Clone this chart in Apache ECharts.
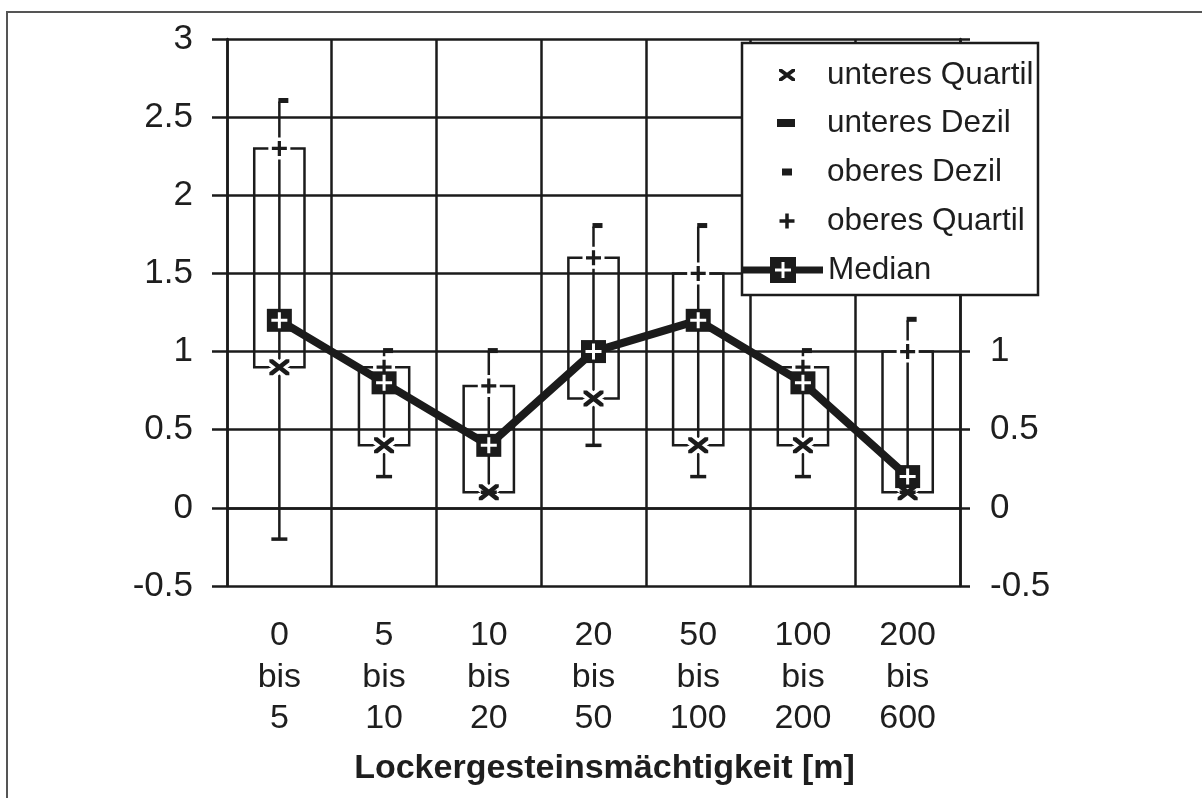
<!DOCTYPE html>
<html>
<head>
<meta charset="utf-8">
<script src="https://cdn.jsdelivr.net/npm/echarts@6/dist/echarts.min.js"></script>
<style>
  html, body { margin: 0; padding: 0; background: #ffffff; }
  #chart { width: 1202px; height: 798px; }
</style>
</head>
<body>
<div id="chart"></div>
<script>
// ---- data ----
const categories = ['0\nbis\n5', '5\nbis\n10', '10\nbis\n20', '20\nbis\n50', '50\nbis\n100', '100\nbis\n200', '200\nbis\n600'];
const lowerDecile   = [-0.2, 0.2, 0.1, 0.4, 0.2, 0.2, 0.1];
const lowerQuartile = [0.9, 0.4, 0.1, 0.7, 0.4, 0.4, 0.1];
const median        = [1.2, 0.8, 0.4, 1.0, 1.2, 0.8, 0.2];
const upperQuartile = [2.3, 0.9, 0.78, 1.6, 1.5, 0.9, 1.0];
const upperDecile   = [2.6, 1.0, 1.0, 1.8, 1.8, 1.0, 1.2];
const yTicks = { min: -0.5, max: 3, interval: 0.5 };
const seriesNames = ['unteres Quartil', 'unteres Dezil', 'oberes Dezil', 'oberes Quartil', 'Median'];
const axisTitle = 'Lockergesteinsmächtigkeit [m]';

// ---- symbols ----
const FONT = '"Liberation Sans", Arial, Helvetica, sans-serif';
const INK = '#1b1b1b';
const xPath = 'path://M0 0 L3.5 0 L20 13 L20 16 L16.5 16 L0 3 Z M16.5 0 L20 0 L20 3 L3.5 16 L0 16 L0 13 Z';
const plusPath = 'path://M5.5 0 H8.5 V5.5 H14 V8.5 H8.5 V14 H5.5 V8.5 H0 V5.5 H5.5 Z';
const crossPath = 'path://M6.5 0 H9.5 V6.5 H16 V9.5 H9.5 V16 H6.5 V9.5 H0 V6.5 H6.5 Z';

// legend icons: padded to the full legend item box (70 wide) so the glyph sits centred
function padBox(w, h) { return 'M0 0 L0.01 0 Z M' + w + ' ' + h + ' L' + (w - 0.01) + ' ' + h + ' Z '; }
const legX = 'path://' + padBox(70, 12) +
  'M27 0 L30 0 L43 9.6 L43 12 L40 12 L27 2.4 Z M40 0 L43 0 L43 2.4 L30 12 L27 12 L27 9.6 Z';
const legDash = 'path://' + padBox(70, 8) + 'M25 0 H43 V8 H25 Z';
const legSq = 'path://' + padBox(70, 7) + 'M30 0 H40 V7 H30 Z';
const legPlus = 'path://' + padBox(70, 15) +
  'M33.25 0 H36.75 V5.75 H42.5 V9.25 H36.75 V15 H33.25 V9.25 H27.5 V5.75 H33.25 Z';
const legMedian = 'path://M0 9.5 H28 V16.5 H0 Z M28 0 H54 V26 H28 Z ' +
  'M39.5 5 L39.5 11.5 L33 11.5 L33 14.5 L39.5 14.5 L39.5 21 L42.5 21 L42.5 14.5 L49 14.5 L49 11.5 L42.5 11.5 L42.5 5 Z ' +
  'M54 9.5 H81 V16.5 H54 Z';

const boxData = categories.map((c, i) => [i, lowerDecile[i], lowerQuartile[i], upperQuartile[i], upperDecile[i]]);

function renderBox(params, api) {
  const i = api.value(0);
  const pLD = api.coord([i, api.value(1)]);
  const pLQ = api.coord([i, api.value(2)]);
  const pUQ = api.coord([i, api.value(3)]);
  const pUD = api.coord([i, api.value(4)]);
  const bw = api.size([1, 0])[0] * 0.48;
  const x = pLQ[0];
  const st = { stroke: INK, lineWidth: 2.5, fill: null };
  return {
    type: 'group',
    children: [
      { type: 'line', shape: { x1: x, y1: pLD[1], x2: x, y2: pUD[1] }, style: st },
      { type: 'rect', shape: { x: x - bw / 2, y: pUQ[1], width: bw, height: pLQ[1] - pUQ[1] }, style: st }
    ]
  };
}

const chart = echarts.init(document.getElementById('chart'), null, { renderer: 'canvas' });

const legendCommon = {
  orient: 'horizontal',
  padding: 0,
  selectedMode: false,
  z: 100,
  textStyle: { fontFamily: FONT, fontSize: 31.5, color: '#1e1e1e', lineHeight: 36 },
  itemStyle: { borderWidth: 0, opacity: 1 }
};

const option = {
  animation: false,
  backgroundColor: '#ffffff',
  textStyle: { fontFamily: FONT },
  grid: { left: 227, right: 242, top: 39, bottom: 212, containLabel: false },
  xAxis: {
    type: 'category',
    data: categories,
    boundaryGap: true,
    axisLine: { show: true, lineStyle: { color: INK, width: 2.5 } },
    axisTick: { show: false },
    splitLine: { show: true, interval: 0, lineStyle: { color: INK, width: 2.5 } },
    axisLabel: { interval: 0, margin: 29, fontSize: 34, lineHeight: 41.5, color: '#1e1e1e', fontFamily: FONT },
    name: axisTitle,
    nameLocation: 'middle',
    nameGap: 166,
    nameTextStyle: { fontSize: 34, fontWeight: 'bold', color: '#1e1e1e', fontFamily: FONT, padding: [0, 0, 0, 22] }
  },
  yAxis: [
    {
      type: 'value', position: 'left',
      min: yTicks.min, max: yTicks.max, interval: yTicks.interval,
      axisLine: { show: true, lineStyle: { color: INK, width: 2.5 } },
      axisTick: { show: true, length: 15, lineStyle: { color: INK, width: 2.5 } },
      splitLine: { show: true, lineStyle: { color: INK, width: 2.5 } },
      axisLabel: { margin: 34, fontSize: 35, color: '#1e1e1e', fontFamily: FONT }
    },
    {
      type: 'value', position: 'right',
      min: yTicks.min, max: yTicks.max, interval: yTicks.interval,
      axisLine: { show: true, lineStyle: { color: INK, width: 2.5 } },
      axisTick: { show: true, length: 10, lineStyle: { color: INK, width: 2.5 } },
      splitLine: { show: false },
      axisLabel: { margin: 30, fontSize: 35, color: '#1e1e1e', fontFamily: FONT,
        formatter: v => (v > 1.01 ? '' : String(v)) }
    }
  ],
  legend: [
    Object.assign({}, legendCommon, { left: 752, top: 75 - 18, itemWidth: 70, itemHeight: 12,
      data: [{ name: seriesNames[0], icon: legX }] }),
    Object.assign({}, legendCommon, { left: 752, top: 123 - 18, itemWidth: 70, itemHeight: 8,
      data: [{ name: seriesNames[1], icon: legDash }] }),
    Object.assign({}, legendCommon, { left: 752, top: 172 - 18, itemWidth: 70, itemHeight: 7,
      data: [{ name: seriesNames[2], icon: legSq }] }),
    Object.assign({}, legendCommon, { left: 752, top: 221 - 18, itemWidth: 70, itemHeight: 15,
      data: [{ name: seriesNames[3], icon: legPlus }] }),
    Object.assign({}, legendCommon, { left: 742, top: 270 - 18, itemWidth: 81, itemHeight: 26,
      data: [{ name: seriesNames[4], icon: legMedian }] })
  ],
  graphic: [
    { type: 'rect', z: 0, silent: true,
      shape: { x: 7, y: 12, width: 1300, height: 900 },
      style: { fill: null, stroke: '#555', lineWidth: 2 } },
    { type: 'rect', z: 50, silent: true,
      shape: { x: 742, y: 43, width: 296, height: 252 },
      style: { fill: '#ffffff', stroke: INK, lineWidth: 2.5 } }
  ],
  series: [
    { type: 'custom', name: 'box', z: 2, data: boxData, renderItem: renderBox,
      encode: { x: 0, y: [1, 2, 3, 4] }, silent: true },
    // white halos so the markers cut the lines behind them
    { type: 'scatter', name: 'halo-x', z: 3, data: lowerQuartile, symbol: xPath, symbolSize: [20, 16],
      itemStyle: { color: '#fff', borderColor: '#fff', borderWidth: 7, opacity: 1 }, silent: true },
    { type: 'scatter', name: 'halo-plus', z: 3, data: upperQuartile, symbol: plusPath, symbolSize: [15, 15],
      itemStyle: { color: '#fff', borderColor: '#fff', borderWidth: 7, opacity: 1 }, silent: true },
    { type: 'scatter', name: seriesNames[0], z: 4, data: lowerQuartile, symbol: xPath, symbolSize: [20, 16],
      itemStyle: { color: INK, opacity: 1 } },
    { type: 'scatter', name: seriesNames[1], z: 4, data: lowerDecile, symbol: 'rect', symbolSize: [16, 3.5],
      itemStyle: { color: INK, opacity: 1 } },
    { type: 'scatter', name: seriesNames[2], z: 4, data: upperDecile, symbol: 'rect', symbolSize: [10, 5],
      symbolOffset: [4, -1], itemStyle: { color: INK, opacity: 1 } },
    { type: 'scatter', name: seriesNames[3], z: 4, data: upperQuartile, symbol: plusPath, symbolSize: [15, 15],
      itemStyle: { color: INK, opacity: 1 } },
    { type: 'line', name: seriesNames[4], z: 5, data: median, symbol: 'rect', symbolSize: [25, 23],
      showSymbol: true, lineStyle: { color: INK, width: 8 }, itemStyle: { color: INK, opacity: 1 } },
    { type: 'scatter', name: 'median-cross', z: 6, data: median, symbol: crossPath, symbolSize: [16, 16],
      itemStyle: { color: '#fff', opacity: 1 }, silent: true }
  ]
};

chart.setOption(option);
</script>
</body>
</html>
